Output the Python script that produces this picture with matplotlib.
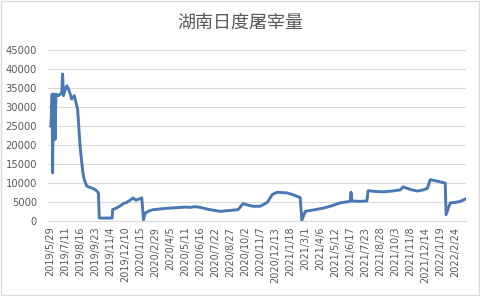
import matplotlib
matplotlib.use("Agg")
import matplotlib.pyplot as plt
from matplotlib.patches import Rectangle

plt.rcParams['font.family'] = ['Noto Sans CJK SC', 'DejaVu Sans']

title = "湖南日度屠宰量"

tick_labels = ["2019/5/29", "2019/7/11", "2019/8/16", "2019/9/23", "2019/11/4",
               "2019/12/10", "2020/1/15", "2020/2/29", "2020/4/5", "2020/5/11",
               "2020/6/16", "2020/7/22", "2020/8/27", "2020/10/2", "2020/11/7",
               "2020/12/13", "2021/1/18", "2021/3/1", "2021/4/6", "2021/5/12",
               "2021/6/17", "2021/7/23", "2021/8/28", "2021/10/3", "2021/11/8",
               "2021/12/14", "2022/1/19", "2022/2/24"]
tick_step = 36
n_categories = 997

# category index of each sampled point and its value
point_idx = [2, 4, 5, 6, 8, 10, 12, 14, 20, 24, 28, 30, 32, 36, 40, 44, 48, 52,
             55, 58, 62, 66, 72, 76, 79, 82, 88, 100, 108, 113, 116, 118, 149,
             150, 160, 168, 176, 185, 192, 199, 206, 213, 220, 224, 228, 238, 247,
             265, 283, 300, 324, 336, 348, 360, 372, 384, 396, 408, 420, 432, 451,
             463, 475, 487, 504, 521, 533, 545, 557, 569, 581, 593, 600, 604, 612,
             630, 655, 675, 696, 708, 720, 722, 724, 742, 760, 763, 780, 799, 820,
             840, 847, 865, 881, 895, 905, 912, 929, 948, 950, 960, 972, 984, 996]
values = [25000, 30000, 33400, 12700, 33400, 31000, 21500, 33400, 33000, 33400,
          33700, 38700, 33000, 34500, 35600, 34800, 33500, 32100, 32500, 33000,
          31200, 29500, 19700, 15400, 12500, 10900, 9200, 8700, 8300, 7800, 7400,
          800, 800, 3000, 3500, 4000, 4600, 5000, 5500, 6100, 5500, 5800, 6100,
          350, 2100, 2700, 3000, 3200, 3400, 3500, 3700, 3600, 3800, 3600, 3300,
          3000, 2800, 2550, 2700, 2800, 3000, 4600, 4200, 3900, 3900, 4900, 7000,
          7600, 7500, 7400, 7000, 6500, 6200, 200, 2550, 2900, 3400, 4000, 4800,
          5000, 5200, 7600, 5300, 5200, 5300, 8000, 7800, 7700, 7900, 8200, 9000,
          8300, 7900, 8200, 8600, 10900, 10500, 10000, 1700, 4800, 4900, 5200, 5800]

fig = plt.figure(figsize=(4.8, 2.96), dpi=100)
fig.patch.set_facecolor("white")
fig.patches.append(Rectangle((0.002, 0.003), 0.995, 0.994, transform=fig.transFigure,
                             fill=False, edgecolor="#d9d9d9", linewidth=1.0))

ax = fig.add_axes([0.1, 0.253, 0.871, 0.578])
ax.plot(point_idx, values, color="#4a78b4", linewidth=2.1, solid_joinstyle="round")

ax.set_ylim(0, 45000)
ax.set_yticks(range(0, 45001, 5000))
ax.set_xlim(-5, n_categories + 1)
ax.set_xticks([i * tick_step for i in range(len(tick_labels))])
ax.set_xticklabels(tick_labels, rotation=90, fontsize=7, color="#595959",
                   family=["DejaVu Sans"])
ax.tick_params(axis="y", labelsize=7.2, colors="#595959", length=0, pad=8)
ax.tick_params(axis="x", length=0, pad=4)
for lab in ax.get_yticklabels():
    lab.set_family(["DejaVu Sans"])
ax.grid(axis="y", color="#d9d9d9", linewidth=0.8)
ax.set_axisbelow(True)
for s in ["top", "right", "left"]:
    ax.spines[s].set_visible(False)
ax.spines["bottom"].set_color("#d9d9d9")
ax.spines["bottom"].set_linewidth(0.8)

fig.text(0.5, 0.922, title, ha="center", va="center", fontsize=13,
         color="#595959", fontweight="light")

fig.savefig("out.png", dpi=100)
